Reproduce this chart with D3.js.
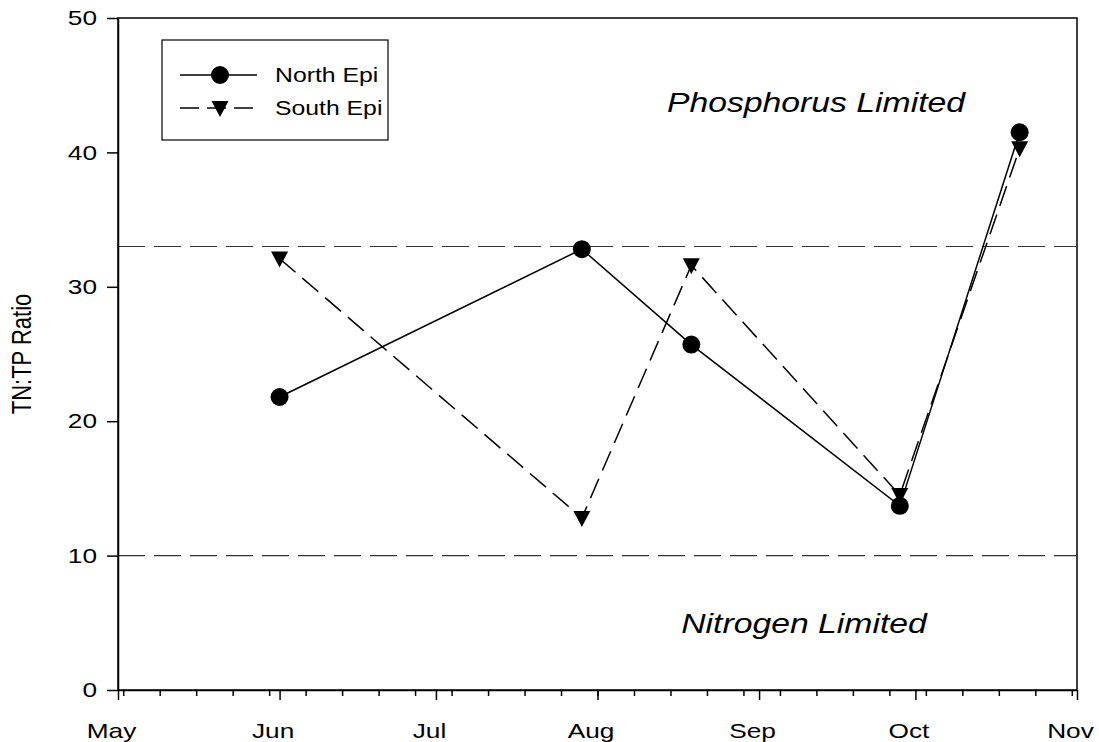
<!DOCTYPE html>
<html>
<head>
<meta charset="utf-8">
<script src="https://cdn.jsdelivr.net/npm/d3@7"></script>
<style>
  body { margin: 0; background: #fff; }
  text { font-family: "Liberation Sans", Arial, sans-serif; }
</style>
</head>
<body>
<svg id="chart" width="1099" height="742"></svg>
<script>
const WIDTH = 1099
const HEIGHT = 742
const MARGIN = {left: 118, right: 22, top: 18, bottom: 52}
const STRETCH = 1.25  // the source picture's text is wider than it is tall

// sampling dates and TN:TP ratios
const northDates = ["2010-06-01", "2010-07-29", "2010-08-19", "2010-09-28", "2010-10-21"]
const northValues = [21.8, 32.8, 25.7, 13.7, 41.5]
const southDates = ["2010-06-01", "2010-07-29", "2010-08-19", "2010-09-28", "2010-10-21"]
const southValues = [32.1, 12.8, 31.6, 14.5, 40.3]
const thresholds = [33, 10]
const yTicks = [0, 10, 20, 30, 40, 50]
const monthLabels = ["May", "Jun", "Jul", "Aug", "Sep", "Oct", "Nov"]

const parse = d3.timeParse("%Y-%m-%d")
const north = northDates.map((d, i) => ({date: parse(d), value: northValues[i]}))
const south = southDates.map((d, i) => ({date: parse(d), value: southValues[i]}))

let svg = d3.select("#chart")

let xScale = d3.scaleTime()
  .domain([new Date(2010, 4, 1), new Date(2010, 10, 1)])
  .range([MARGIN.left, WIDTH - MARGIN.right])

let yScale = d3.scaleLinear()
  .domain([0, 50])
  .range([HEIGHT - MARGIN.bottom, MARGIN.top])

// widen a text horizontally while keeping its anchor point in place
function stretch(sel, dx = 0, k = STRETCH) {
  sel.each(function () {
    let t = d3.select(this)
    let x = +t.attr("x") || 0
    t.attr("x", 0).attr("transform", `translate(${x + dx}, 0) scale(${k}, 1)`)
  })
}

// frame
svg.append("rect")
  .attr("x", MARGIN.left)
  .attr("y", MARGIN.top)
  .attr("width", WIDTH - MARGIN.right - MARGIN.left)
  .attr("height", HEIGHT - MARGIN.bottom - MARGIN.top)
  .attr("fill", "none")
  .attr("stroke", "#000")
  .attr("stroke-width", 1.5)

// threshold lines
svg.append("g")
  .selectAll("line")
  .data(thresholds)
  .join("line")
  .attr("x1", MARGIN.left)
  .attr("x2", WIDTH - MARGIN.right)
  .attr("y1", d => yScale(d))
  .attr("y2", d => yScale(d))
  .attr("stroke", "#333")
  .attr("stroke-width", 1.2)
  .attr("stroke-dasharray", "27,9")

// x axis: minor weekly ticks, then month ticks with labels
let xMinor = svg.append("g")
  .attr("transform", `translate(0, ${HEIGHT - MARGIN.bottom})`)
  .call(d3.axisBottom(xScale)
    .ticks(d3.timeSunday)
    .tickSize(6)
    .tickFormat(""))
xMinor.select(".domain").remove()

let xAxis = svg.append("g")
  .attr("transform", `translate(0, ${HEIGHT - MARGIN.bottom})`)
  .call(d3.axisBottom(xScale)
    .ticks(d3.timeMonth)
    .tickSize(10)
    .tickSizeOuter(0)
    .tickPadding(23)
    .tickFormat((d, i) => monthLabels[i]))

svg.selectAll(".tick line").attr("stroke-width", 1.5)
svg.selectAll(".domain").attr("stroke-width", 1.5)
xAxis.selectAll("text").attr("font-size", 21).attr("fill", "#000").call(stretch, -7)

let yAxis = svg.append("g")
  .attr("transform", `translate(${MARGIN.left}, 0)`)
  .call(d3.axisLeft(yScale)
    .tickValues(yTicks)
    .tickSize(11)
    .tickSizeOuter(0)
    .tickPadding(10))
yAxis.selectAll("text").attr("font-size", 21).attr("fill", "#000").call(stretch)
yAxis.selectAll(".tick line").attr("stroke-width", 1.5)
yAxis.select(".domain").attr("stroke-width", 1.5)

svg.append("text")
  .attr("transform", `translate(31, ${yScale(25)}) rotate(-90) scale(1, ${STRETCH})`)
  .attr("text-anchor", "middle")
  .attr("font-size", 22)
  .text("TN:TP Ratio")

// region labels
svg.append("text")
  .attr("x", 816).attr("y", 112)
  .attr("text-anchor", "middle")
  .attr("font-size", 27)
  .attr("font-style", "italic")
  .text("Phosphorus Limited")
  .call(stretch)

svg.append("text")
  .attr("x", 804).attr("y", 633)
  .attr("text-anchor", "middle")
  .attr("font-size", 27)
  .attr("font-style", "italic")
  .text("Nitrogen Limited")
  .call(stretch)

let line = d3.line()
  .x(d => xScale(d.date))
  .y(d => yScale(d.value))

svg.append("path")
  .attr("d", line(south))
  .attr("fill", "none")
  .attr("stroke", "#000")
  .attr("stroke-width", 1.5)
  .attr("stroke-dasharray", "21,9")

svg.append("path")
  .attr("d", line(north))
  .attr("fill", "none")
  .attr("stroke", "#000")
  .attr("stroke-width", 1.5)

const tri = "M-8.5,-7L8.5,-7L0,9Z"

svg.append("g")
  .selectAll("path")
  .data(south)
  .join("path")
  .attr("transform", d => `translate(${xScale(d.date)}, ${yScale(d.value)})`)
  .attr("d", tri)
  .attr("fill", "#000")

svg.append("g")
  .selectAll("circle")
  .data(north)
  .join("circle")
  .attr("cx", d => xScale(d.date))
  .attr("cy", d => yScale(d.value))
  .attr("r", 9)
  .attr("fill", "#000")

// legend
let legend = svg.append("g")
legend.append("rect")
  .attr("x", 162).attr("y", 40)
  .attr("width", 226).attr("height", 100)
  .attr("fill", "#fff")
  .attr("stroke", "#000")
  .attr("stroke-width", 1.2)

legend.append("line")
  .attr("x1", 180).attr("x2", 257).attr("y1", 75).attr("y2", 75)
  .attr("stroke", "#000").attr("stroke-width", 1.5)
legend.append("circle")
  .attr("cx", 220).attr("cy", 75).attr("r", 9).attr("fill", "#000")
legend.append("text")
  .attr("x", 275).attr("y", 82).attr("font-size", 21).text("North Epi")
  .call(stretch, 0, 1.18)

legend.append("line")
  .attr("x1", 180).attr("x2", 257).attr("y1", 108).attr("y2", 108)
  .attr("stroke", "#000").attr("stroke-width", 1.5)
  .attr("stroke-dasharray", "19,8")
legend.append("path")
  .attr("transform", "translate(220, 108)")
  .attr("d", tri).attr("fill", "#000")
legend.append("text")
  .attr("x", 275).attr("y", 115).attr("font-size", 21).text("South Epi")
  .call(stretch, 0, 1.18)
</script>
</body>
</html>
